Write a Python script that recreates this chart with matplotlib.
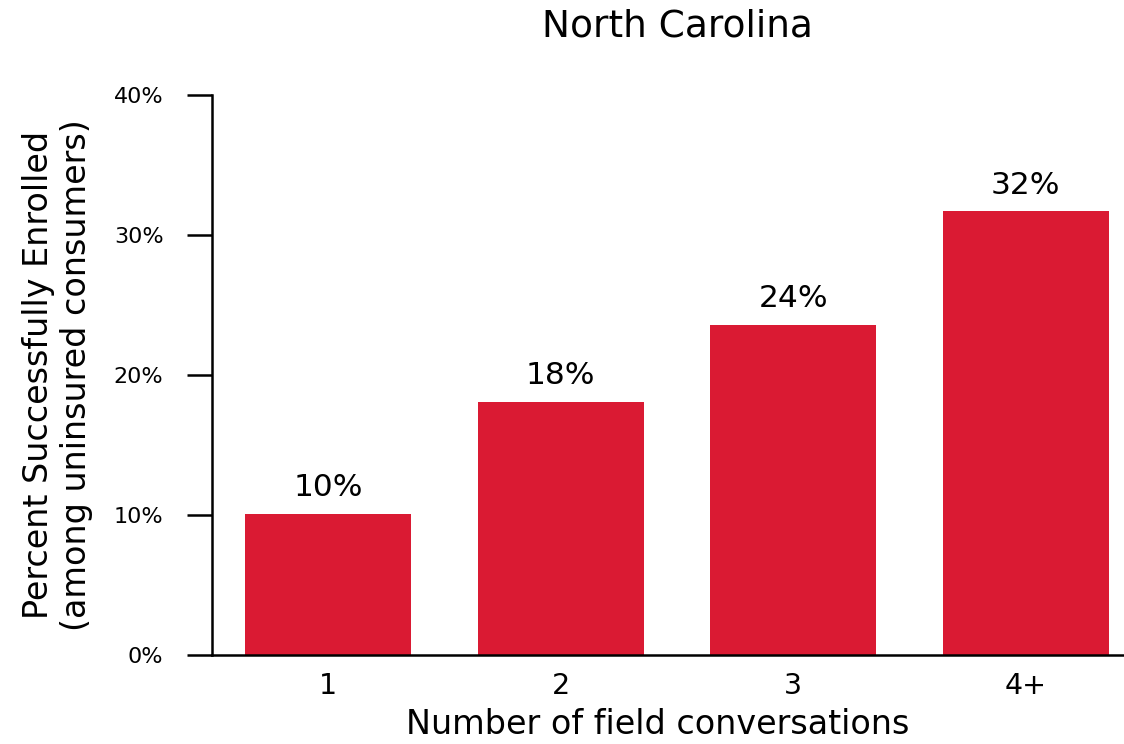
import matplotlib
matplotlib.use("Agg")
import matplotlib.pyplot as plt
from matplotlib.ticker import FuncFormatter

categories = ["1", "2", "3", "4+"]
values = [10.1, 18.1, 23.6, 31.7]
labels = ["10%", "18%", "24%", "32%"]
yticks = [0, 10, 20, 30, 40]

plt.rcParams['font.family'] = ['DejaVu Sans']

fig = plt.figure(figsize=(11.24, 7.44), dpi=100)
ax = fig.add_axes([212/1124, 1 - 655/744, 930/1124, 560/744])

x = list(range(len(categories)))
ax.bar(x, values, width=0.715, color="#DA1A33")
for xi, v, lab in zip(x, values, labels):
    ax.annotate(lab, (xi, v), xytext=(0, 8), textcoords="offset points",
                ha="center", va="bottom", fontsize=22.5)

ax.set_xlim(-0.5, 3.5)
ax.set_ylim(0, 40)
ax.set_yticks(yticks)
ax.yaxis.set_major_formatter(FuncFormatter(lambda v, p: f"{int(v)}%"))
ax.set_xticks(x)
ax.set_xticklabels(categories)
ax.tick_params(axis="y", labelsize=16, length=18, width=1.8, pad=17)
ax.tick_params(axis="x", labelsize=20.5, length=0, pad=12)
for s in ["top", "right"]:
    ax.spines[s].set_visible(False)
ax.spines["left"].set_linewidth(1.8)
ax.spines["bottom"].set_linewidth(1.8)

ax.set_title("North Carolina", fontsize=27, x=0.501, pad=42)
ax.set_xlabel("Number of field conversations", fontsize=24)
ax.xaxis.set_label_coords(0.479, -0.095)
ax.set_ylabel("Percent Successfully Enrolled\n(among uninsured consumers)", fontsize=24)
ax.yaxis.set_label_coords(-0.128, 0.5)

fig.savefig("out.png", dpi=100)
